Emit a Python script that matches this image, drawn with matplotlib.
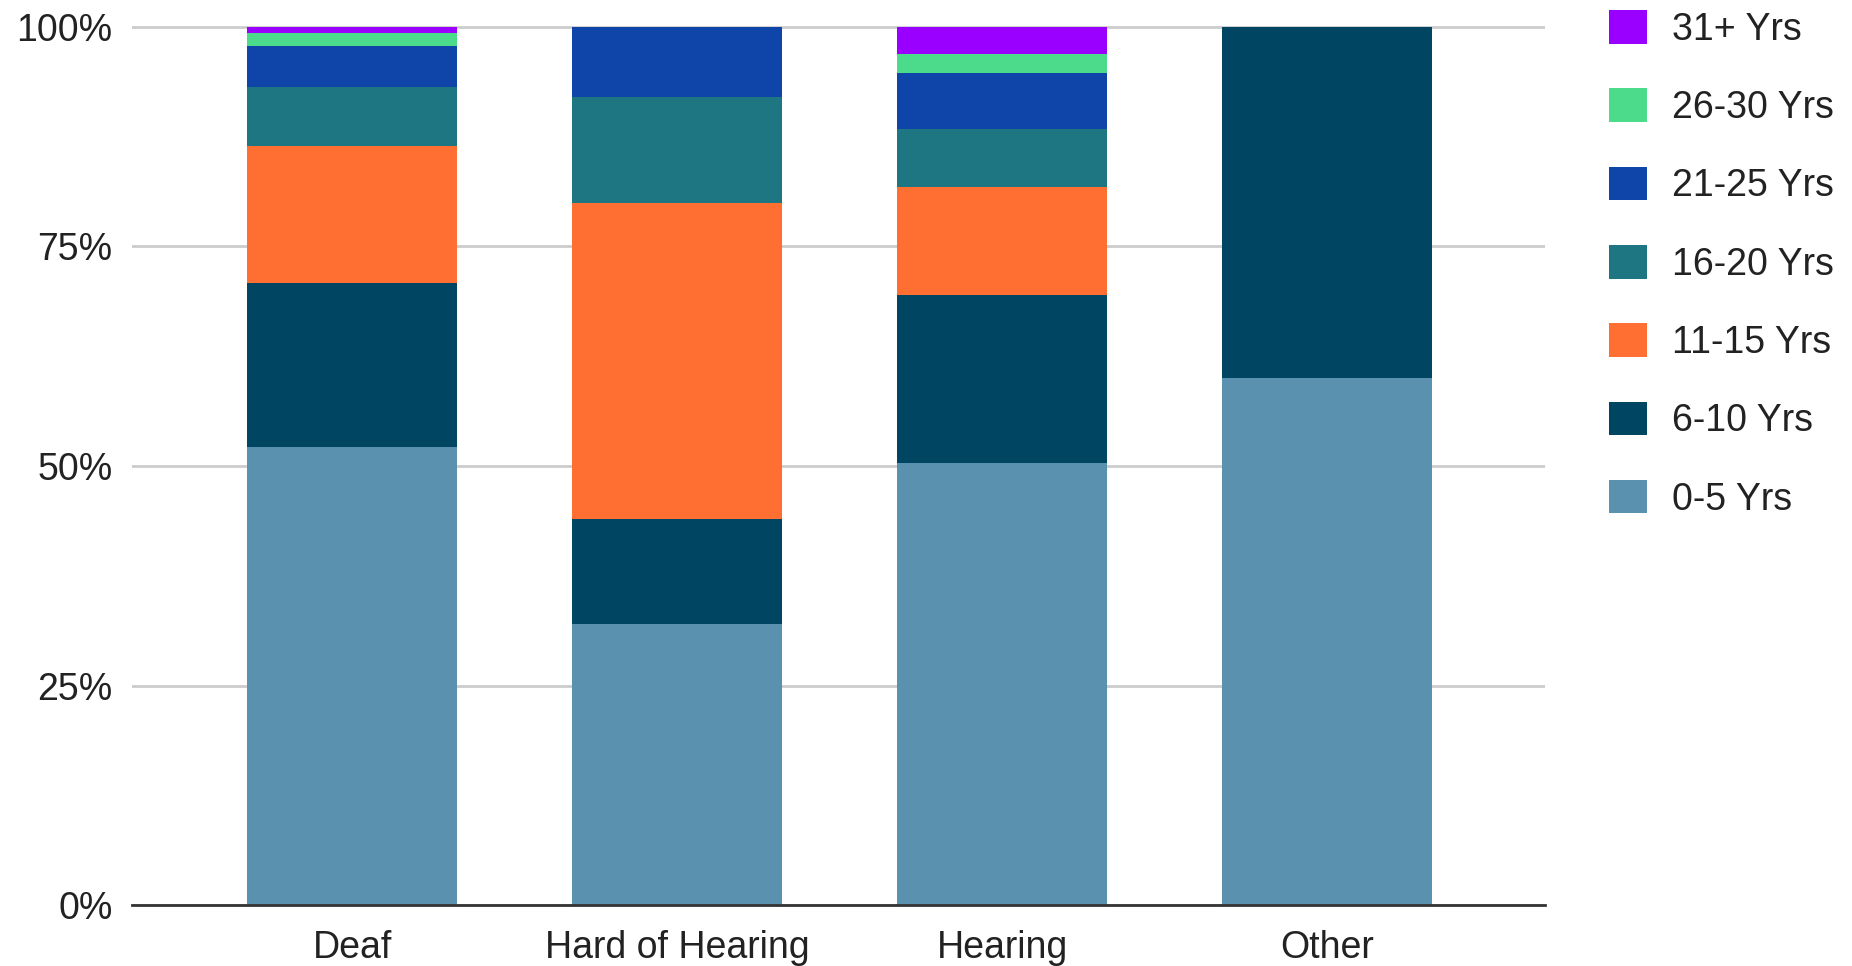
import numpy as np
import matplotlib
matplotlib.use("Agg")
import matplotlib.pyplot as plt
from matplotlib.patches import Patch

plt.rcParams['font.family'] = ['Liberation Sans', 'DejaVu Sans']

# share of each group by years of experience, in percent
groups = ["Deaf", "Hard of Hearing", "Hearing", "Other"]
bands = ["0-5 Yrs", "6-10 Yrs", "11-15 Yrs", "16-20 Yrs", "21-25 Yrs", "26-30 Yrs", "31+ Yrs"]
yrs_0_5 = [52.2, 32.0, 50.3, 60.0]
yrs_6_10 = [18.6, 12.0, 19.2, 40.0]
yrs_11_15 = [15.6, 36.0, 12.3, 0.0]
yrs_16_20 = [6.7, 12.0, 6.6, 0.0]
yrs_21_25 = [4.7, 8.0, 6.3, 0.0]
yrs_26_30 = [1.5, 0.0, 2.2, 0.0]
yrs_31_plus = [0.7, 0.0, 3.1, 0.0]

band_colors = ["#5A91AF", "#004561", "#FF6F31", "#1E7682", "#0F45A8", "#4CDB8A", "#9900FF"]

series = [yrs_0_5, yrs_6_10, yrs_11_15, yrs_16_20, yrs_21_25, yrs_26_30, yrs_31_plus]

fig = plt.figure(figsize=(18.52, 9.66), dpi=100)
ax = fig.add_axes([0.0713, 0.0631, 0.7629, 0.9109])

x = np.arange(len(groups))
bottom = np.zeros(len(groups))
for vals, col, name in zip(series, band_colors, bands):
    vals = np.array(vals)
    ax.bar(x, vals, bottom=bottom, width=0.646, color=col, label=name,
           linewidth=0, zorder=3)
    bottom += vals

ax.set_xlim(-0.677, len(groups) - 1 + 0.67)
ax.set_ylim(0, 100.2)
ax.set_yticks([0, 25, 50, 75, 100])
ax.set_yticklabels(["0%", "25%", "50%", "75%", "100%"])
ax.set_xticks(x)
ax.set_xticklabels(groups)

ax.grid(axis='y', color='#cccccc', linewidth=2, zorder=0)
ax.set_axisbelow(True)
for s in ['top', 'right', 'left']:
    ax.spines[s].set_visible(False)
ax.spines['bottom'].set_color('#333333')
ax.spines['bottom'].set_linewidth(2)
ax.spines['bottom'].set_zorder(4)
ax.tick_params(axis='both', length=0, labelsize=27, colors='#222222')
ax.tick_params(axis='y', pad=14)
ax.tick_params(axis='x', pad=18)

handles = [Patch(facecolor=c, edgecolor='none') for c in band_colors][::-1]
leg = fig.legend(handles, bands[::-1], loc='upper left',
                 bbox_to_anchor=(0.8588, 1.009), frameon=False, fontsize=27,
                 handlelength=1.0, handleheight=1.0, handletextpad=0.68,
                 labelspacing=1.085, labelcolor='#222222', borderpad=0)

fig.savefig("out.png", dpi=100, facecolor='white')
